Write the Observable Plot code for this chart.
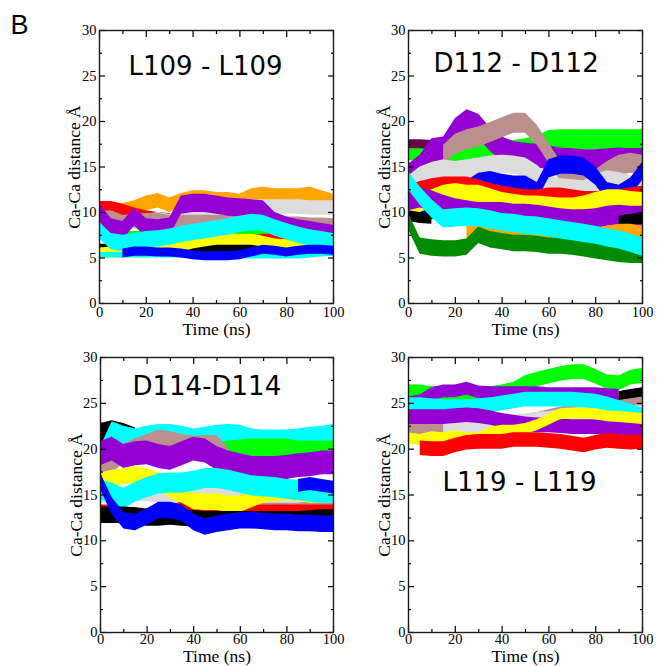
<!DOCTYPE html>
<html><head><meta charset="utf-8">
<script src="https://cdn.jsdelivr.net/npm/d3@7"></script>
<script src="https://cdn.jsdelivr.net/npm/@observablehq/plot@0.6"></script>
<style>
body{margin:0;background:#fff;}
#wrap{position:relative;width:658px;height:666px;background:#fff;overflow:hidden}
</style></head><body><div id="wrap"></div>
<script>
// ---- shared axis values ----
const times = [0,5,10,15,20,25,30,35,40,45,50,55,60,65,70,75,80,85,90,95,100];
const xMajor = [0,20,40,60,80,100];
const xMinor = [10,30,50,70,90];
const yMajor = [0,5,10,15,20,25,30];
const yMinor = [2.5,7.5,12.5,17.5,22.5,27.5];
const xLabel = "Time (ns)";
const yLabel = "Ca-Ca distance Å";
const panelLetter = "B";
const graceColors = {black:"#000000", red:"#ff0000", green:"#00ff00", blue:"#0000ff", yellow:"#ffff00",
  brown:"#bc8f8f", grey:"#dcdcdc", violet:"#9400d3", cyan:"#00ffff", orange:"#ffa500",
  maroon:"#670748", green4:"#008b00"};

// ---- panel 1: L109 - L109 ----
const l109Title = "L109 - L109";
const l109Colors = ["orange","red","grey","brown","green","maroon","black","yellow","violet","cyan","cyan","blue"];
const l109Spread = [0.8,0.7,0.8,0.7,0.4,0.4,0.5,0.6,1.0,0.9,0.3,0.5];
const l109Mid = [
  [10.2,10.3,10.2,10.5,11.0,11.3,10.8,11.3,11.6,11.6,11.4,11.4,11.2,11.8,12.0,11.8,11.8,11.8,12.0,11.6,11.2],
  [10.5,10.5,10.2,9.8,9.5,9.3,9.2,9.0,9.0,8.8,8.6,8.4,8.0,7.7,7.5,7.4,7.2,7.0,7.0,7.0,7.0],
  [8.6,8.5,8.8,9.0,9.0,9.2,9.0,9.5,9.8,10.0,10.0,10.2,10.5,10.6,10.6,10.6,10.6,10.6,10.5,10.5,10.5],
  [9.4,9.5,9.0,9.0,9.2,9.2,9.0,9.0,9.0,9.0,9.0,9.0,9.0,9.0,8.8,8.8,8.8,8.8,8.7,8.7,8.6],
  [7.5,7.5,7.5,7.5,7.5,7.5,7.5,7.5,7.5,7.5,7.5,7.5,7.6,7.8,8.0,8.0,8.0,8.0,7.8,7.8,7.8],
  [5.6,5.6,5.6,5.6,5.6,5.6,5.6,5.6,5.7,5.7,5.7,5.7,5.7,5.7,5.6,5.6,5.6,5.6,5.6,5.6,5.6],
  [6.0,6.0,5.8,5.8,5.8,5.8,5.8,5.8,6.0,6.2,6.2,6.2,6.1,6.0,6.0,5.9,5.9,5.8,5.8,5.8,5.8],
  [5.5,5.6,5.6,5.6,5.6,5.7,5.8,6.2,6.6,6.8,7.0,7.0,7.0,7.0,6.8,6.5,6.4,6.3,6.3,6.2,6.2],
  [10.0,8.3,8.0,9.5,8.3,8.2,8.4,10.8,11.0,11.0,10.8,10.6,10.5,10.4,10.3,9.0,8.5,8.2,8.0,7.8,7.6],
  [8.0,6.8,6.6,6.8,7.0,7.1,7.3,7.6,7.8,8.0,8.2,8.4,8.7,8.9,8.8,8.3,7.9,7.5,7.2,7.0,6.8],
  [5.3,5.3,5.3,5.3,5.3,5.3,5.3,5.3,5.3,5.3,5.2,5.2,5.2,5.2,5.2,5.2,5.2,5.2,5.3,5.4,5.5],
  [null,null,5.5,5.7,5.7,5.6,5.6,5.5,5.3,5.2,5.2,5.2,5.3,5.6,5.9,5.8,5.6,5.8,5.9,5.9,5.8]
];

// ---- panel 2: D112 - D112 ----
const d112Title = "D112 - D112";
const d112Colors = ["green","maroon","violet","brown","grey","blue","red","yellow","violet","black","orange","green4","cyan"];
const d112Spread = [1.1,0.5,1.3,1.1,1.0,1.0,0.9,1.0,1.1,0.6,0.7,0.9,1.0];
const d112Mid = [
  [16.8,16.8,16.5,16.2,16.2,16.3,16.4,16.5,16.6,16.8,17.0,17.3,17.9,18.0,18.0,18.0,18.0,18.0,18.0,18.0,18.0],
  [17.5,17.5,17.4,17.2,null,null,null,null,null,null,null,null,null,null,null,null,null,16.2,16.4,16.5,16.5],
  [14.0,15.0,16.8,17.0,19.0,20.0,19.5,18.0,17.0,16.5,16.3,16.2,16.0,15.8,15.7,15.6,15.6,15.7,15.8,15.7,15.6],
  [null,null,null,16.3,17.5,18.0,18.3,18.8,19.3,19.8,19.8,18.5,16.5,14.5,14.0,13.8,13.6,14.5,15.2,15.4,15.2],
  [13.0,14.0,14.5,14.8,14.6,14.8,15.0,15.2,15.3,15.2,15.0,14.2,13.0,12.7,12.6,12.5,13.2,13.6,13.4,13.0,12.8],
  [10.0,10.0,10.2,10.5,11.5,12.5,13.3,13.5,13.2,13.0,13.0,12.3,14.8,15.2,15.2,15.0,14.0,12.3,12.0,12.8,14.5],
  [12.0,12.5,12.8,13.0,13.0,13.0,12.7,12.3,12.0,11.8,11.6,11.6,11.8,11.8,11.6,11.4,11.4,11.4,11.6,11.8,12.0],
  [10.5,11.0,11.5,12.0,12.2,12.0,12.0,11.6,11.2,11.0,10.8,10.8,10.7,10.6,10.6,10.8,11.2,11.5,11.5,11.3,11.2],
  [11.3,11.6,11.3,10.8,10.4,10.2,10.0,10.0,10.0,9.8,9.8,9.7,9.5,9.3,9.2,9.2,9.3,9.6,9.7,9.6,9.6],
  [9.6,9.4,9.3,null,null,null,null,null,null,null,null,null,null,null,null,null,null,null,9.0,9.2,9.3],
  [null,null,null,null,null,7.8,8.0,7.8,7.6,7.4,7.4,7.4,7.4,7.4,7.4,7.5,7.6,7.8,8.0,8.0,7.8],
  [9.0,6.3,6.1,6.0,6.0,6.2,7.5,7.0,6.8,6.6,6.6,6.5,6.3,6.3,6.2,6.0,5.8,5.6,5.4,5.3,5.3],
  [13.5,11.8,10.4,9.3,9.4,9.5,9.4,9.2,8.9,8.8,8.6,8.5,8.3,8.1,7.9,7.7,7.5,7.2,7.0,6.6,6.2]
];

// ---- panel 3: D114-D114 ----
const d114Title = "D114-D114";
const d114Colors = ["black","cyan","green","brown","grey","violet","red","yellow","cyan","black","blue","blue"];
const d114Spread = [1.3,1.2,1.1,1.1,0.9,1.3,0.9,0.9,1.1,0.9,0.9,0.7];
const d114Mid = [
  [21.5,21.8,21.5,21.0,null,null,null,null,null,null,null,null,null,null,null,null,null,null,null,null,null],
  [19.0,21.8,21.3,21.0,21.3,21.5,21.5,21.3,21.0,21.2,21.4,21.5,21.4,21.0,20.9,20.9,20.9,21.0,21.2,21.3,21.5],
  [null,null,null,null,null,null,null,null,null,null,19.5,19.8,19.9,20.0,20.0,20.0,20.0,19.8,19.8,19.8,19.8],
  [18.0,18.5,19.5,20.0,20.5,21.0,20.8,20.5,20.3,20.4,20.4,19.0,13.5,13.3,13.5,14.0,14.3,14.5,14.8,14.8,14.8],
  [15.0,15.0,15.0,15.2,15.2,15.0,14.8,14.8,15.0,15.0,15.0,15.0,15.0,15.0,15.0,15.0,15.0,15.0,15.2,15.3,15.3],
  [19.5,20.0,19.2,19.5,19.6,19.2,19.0,19.5,20.0,19.8,19.0,18.5,18.2,17.9,17.9,17.9,18.0,18.2,18.3,18.5,18.5],
  [13.0,13.0,12.8,12.7,12.6,12.7,13.0,13.3,13.5,13.5,13.4,13.2,13.0,13.0,13.0,13.0,13.0,13.0,13.0,13.0,13.0],
  [16.5,16.8,17.0,17.2,17.0,16.5,15.5,15.0,14.3,14.2,14.2,14.0,14.0,14.5,15.0,15.2,15.3,15.2,15.0,15.0,15.0],
  [15.5,15.2,14.6,15.3,15.8,16.2,16.3,16.3,16.5,16.8,16.8,16.6,16.3,16.0,15.9,15.8,15.6,15.5,15.3,15.2,15.2],
  [12.8,12.8,12.8,12.7,12.5,12.5,12.6,12.5,12.4,12.3,12.3,12.3,12.3,12.3,12.3,12.3,12.3,12.3,12.4,12.5,12.5],
  [16.5,13.8,12.2,12.0,12.6,13.3,13.3,13.0,12.0,11.5,11.8,12.0,12.2,12.2,12.1,12.0,12.0,11.9,11.9,11.8,11.8],
  [null,null,null,null,null,null,null,null,null,null,null,null,null,null,null,null,null,16.0,16.2,16.0,15.8]
];

// ---- panel 4: L119 - L119 ----
const l119Title = "L119 - L119";
const l119Colors = ["brown","grey","green","violet","black","cyan","violet","yellow","red"];
const l119Spread = [0.8,0.8,0.8,0.7,0.5,0.8,0.8,0.6,0.8];
const l119Mid = [
  [22.3,22.3,22.4,22.5,22.6,22.7,22.8,22.8,22.8,22.8,23.0,23.2,23.5,23.8,24.0,24.2,24.4,24.6,25.0,25.5,25.5],
  [null,null,null,22.4,22.4,22.4,22.4,22.4,22.5,22.8,23.0,23.2,23.3,23.5,23.6,23.8,24.0,24.0,24.0,23.8,23.6],
  [26.2,26.2,26.0,26.0,26.0,26.0,26.0,26.0,26.2,26.5,27.2,27.6,27.9,28.2,28.4,28.4,27.9,27.3,27.2,27.8,28.0],
  [25.0,25.2,26.0,26.3,26.3,26.6,26.2,26.1,26.1,26.1,26.1,26.1,26.0,26.0,26.0,26.0,26.0,25.9,25.8,null,null],
  [null,null,null,null,null,null,null,null,null,null,null,null,null,null,null,null,null,null,25.8,26.0,26.2],
  [24.8,24.8,24.7,24.6,24.6,24.6,24.7,24.8,25.0,25.2,25.4,25.4,25.4,25.4,25.4,25.3,25.2,24.9,24.5,24.1,23.7],
  [23.5,23.5,23.5,23.5,23.6,23.7,23.6,23.4,23.1,22.9,22.7,22.6,22.6,22.5,22.4,22.4,22.4,22.3,22.2,22.2,22.2],
  [21.2,21.0,21.3,21.2,21.4,21.2,21.2,21.8,22.0,22.0,22.2,22.6,23.2,23.8,23.9,23.9,23.8,23.6,23.5,23.4,23.3],
  [null,20.1,20.0,20.0,20.4,20.7,20.8,20.8,20.8,21.0,21.0,21.0,20.9,20.8,20.6,20.4,20.7,20.9,20.8,20.7,20.8]
];

const serif = "'Liberation Serif', 'Times New Roman', serif";
const sans = "'DejaVu Sans', sans-serif";

function bandRows(mid, spread) {
  return times.map((t, j) => ({
    t,
    lo: mid[j] == null ? NaN : mid[j] - spread,
    hi: mid[j] == null ? NaN : mid[j] + spread
  }));
}

function panel(cfg) {
  const marks = [];
  cfg.colors.forEach((c, i) => {
    marks.push(Plot.areaY(bandRows(cfg.mid[i], cfg.spread[i]), {x: "t", y1: "lo", y2: "hi", fill: graceColors[c], curve: "linear"}));
  });
  // inward ticks on all four sides
  for (const a of ["bottom", "top"]) {
    marks.push(Plot.axisX(xMajor, {anchor: a, tickSize: -6, fill: "none", label: null, stroke: "#000", strokeWidth: 1.2}));
    marks.push(Plot.axisX(xMinor, {anchor: a, tickSize: -3, fill: "none", label: null, stroke: "#000", strokeWidth: 1.2}));
  }
  for (const a of ["left", "right"]) {
    marks.push(Plot.axisY(yMajor, {anchor: a, tickSize: -6, fill: "none", label: null, stroke: "#000", strokeWidth: 1.2}));
    marks.push(Plot.axisY(yMinor, {anchor: a, tickSize: -3, fill: "none", label: null, stroke: "#000", strokeWidth: 1.2}));
  }
  // tick labels
  marks.push(Plot.axisX(xMajor, {anchor: "bottom", tickSize: 0, tickPadding: cfg.xPad, label: null, fontSize: 14.5, fontFamily: serif, fill: "#000"}));
  marks.push(Plot.axisY(yMajor, {anchor: "left", tickSize: 0, tickPadding: 3, label: null, fontSize: 14.5, fontFamily: serif, fill: "#000"}));
  // axis titles
  marks.push(Plot.axisX([], {anchor: "bottom", tickSize: 0, label: xLabel, labelAnchor: "center", labelArrow: "none", labelOffset: cfg.xLabOff, fontSize: 17.5, fontFamily: serif, fill: "#000"}));
  marks.push(Plot.axisY([], {anchor: "left", tickSize: 0, label: yLabel, labelAnchor: "center", labelArrow: "none", labelOffset: cfg.yLabOff, fontSize: 17.5, fontFamily: serif, fill: "#000"}));
  marks.push(Plot.frame({stroke: "#1a1a1a", strokeWidth: 1.4}));
  marks.push(Plot.text([cfg.title], {frameAnchor: "top-left", dx: cfg.tdx, dy: cfg.tdy, textAnchor: "start", lineAnchor: "bottom", fontSize: 26, fontFamily: sans, fill: "#000"}));
  if (cfg.letter) {
    marks.push(Plot.text([cfg.letter], {frameAnchor: "top-left", dx: -89, dy: 3, textAnchor: "start", lineAnchor: "bottom", fontSize: 27, fontFamily: "'Liberation Sans', Arial, sans-serif", fill: "#000"}));
  }
  const svg = Plot.plot({
    width: cfg.w, height: cfg.h,
    marginLeft: cfg.ml, marginRight: cfg.mr, marginTop: cfg.mt, marginBottom: cfg.mb,
    x: {domain: [0, 100]},
    y: {domain: [0, 30]},
    style: {background: "transparent", color: "#000", overflow: "visible", fontFamily: serif},
    marks
  });
  svg.style.position = "absolute";
  svg.style.left = cfg.left + "px";
  svg.style.top = cfg.top + "px";
  document.getElementById("wrap").appendChild(svg);
}

panel({title: l109Title, colors: l109Colors, spread: l109Spread, mid: l109Mid, letter: panelLetter,
  left: 0, top: 0, w: 340, h: 340, ml: 99, mr: 7, mt: 30, mb: 37, tdx: 29, tdy: 44, xPad: 3, xLabOff: 31, yLabOff: 32});
panel({title: d112Title, colors: d112Colors, spread: d112Spread, mid: d112Mid,
  left: 330, top: 0, w: 328, h: 340, ml: 78, mr: 16, mt: 30, mb: 37, tdx: 25, tdy: 41, xPad: 3, xLabOff: 31, yLabOff: 31});
panel({title: d114Title, colors: d114Colors, spread: d114Spread, mid: d114Mid,
  left: 0, top: 340, w: 340, h: 326, ml: 100, mr: 7, mt: 17, mb: 34, tdx: 32, tdy: 37, xPad: 1, xLabOff: 29, yLabOff: 31});
panel({title: l119Title, colors: l119Colors, spread: l119Spread, mid: l119Mid,
  left: 330, top: 340, w: 328, h: 326, ml: 78, mr: 16, mt: 17, mb: 34, tdx: 34, tdy: 133, xPad: 1, xLabOff: 29, yLabOff: 31});
</script></body></html>
